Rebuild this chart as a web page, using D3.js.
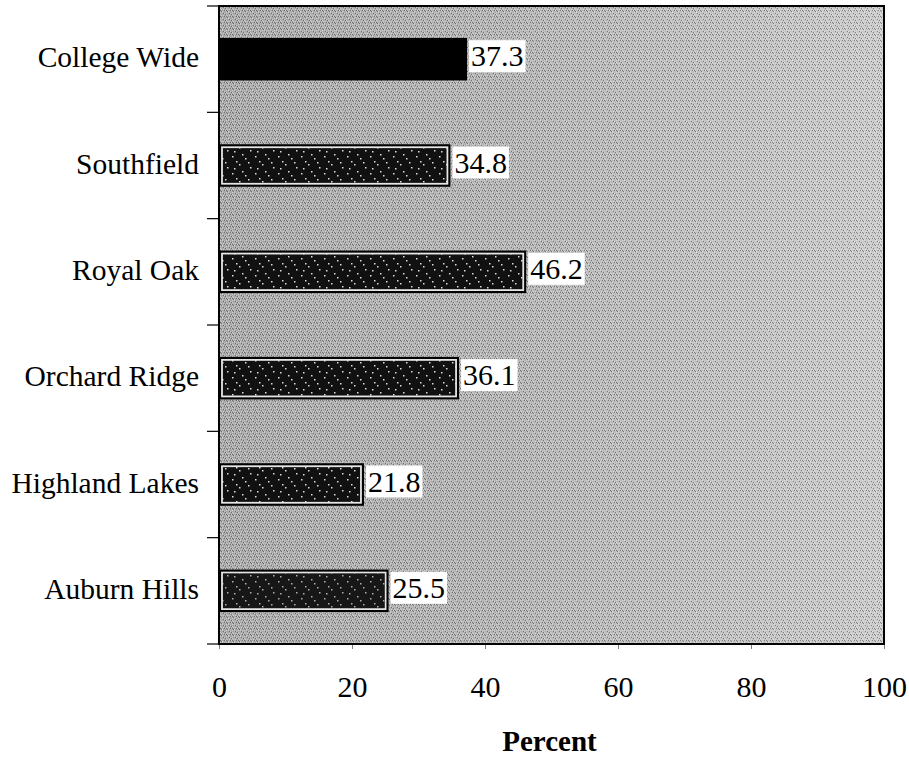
<!DOCTYPE html>
<html>
<head>
<meta charset="utf-8">
<script src="https://cdn.jsdelivr.net/npm/d3@7"></script>
<style>
  html, body { margin: 0; padding: 0; background: #fff; }
  svg { display: block; }
  text { font-family: "Liberation Serif", "Times New Roman", serif; fill: #000; }
</style>
</head>
<body>
<svg id="chart" width="909" height="760"></svg>
<script>
const categories = ["College Wide", "Southfield", "Royal Oak", "Orchard Ridge", "Highland Lakes", "Auburn Hills"];
const values = [37.3, 34.8, 46.2, 36.1, 21.8, 25.5];
const xTicks = [0, 20, 40, 60, 80, 100];
const xLabel = "Percent";

const W = 909, H = 760;
const plot = { left: 219, right: 884, top: 6, bottom: 644 };

const svg = d3.select("#chart");
const defs = svg.append("defs");

// background gradient (grey stipple look)
const grad = defs.append("linearGradient").attr("id", "bgGrad").attr("x1", 0).attr("x2", 1).attr("y1", 0).attr("y2", 0);
grad.append("stop").attr("offset", 0).attr("stop-color", "#a8a8a8");
grad.append("stop").attr("offset", 0.45).attr("stop-color", "#b4b4b4");
grad.append("stop").attr("offset", 1).attr("stop-color", "#cacaca");

// fine stipple texture
const tex = defs.append("pattern").attr("id", "stipple").attr("patternUnits", "userSpaceOnUse").attr("width", 6).attr("height", 6);
[[0,0],[2,1],[4,0],[1,3],[3,4],[5,3],[0,5],[4,2]].forEach(([a,b]) => {
  tex.append("rect").attr("x", a).attr("y", b).attr("width", 1).attr("height", 1).attr("fill", "#fff").attr("opacity", 0.4);
});
[[1,1],[3,2],[5,5],[2,4],[4,4]].forEach(([a,b]) => {
  tex.append("rect").attr("x", a).attr("y", b).attr("width", 1).attr("height", 1).attr("fill", "#000").attr("opacity", 0.35);
});

// speckled dark bar fill
const spk = defs.append("pattern").attr("id", "speckle").attr("patternUnits", "userSpaceOnUse").attr("width", 23).attr("height", 17);
spk.append("rect").attr("width", 23).attr("height", 17).attr("fill", "#111");
[[2,3],[9,11],[15,5],[20,14],[6,8],[12,1],[18,9],[4,15]].forEach(([a,b]) => {
  spk.append("rect").attr("x", a).attr("y", b).attr("width", 1.5).attr("height", 1.5).attr("fill", "#ddd");
});

const x = d3.scaleLinear().domain([0, 100]).range([plot.left, plot.right]);
const y = d3.scaleBand().domain(categories).range([plot.top, plot.bottom]).paddingInner(0.6).paddingOuter(0.3);

// plot background
svg.append("rect")
  .attr("x", plot.left).attr("y", plot.top)
  .attr("width", plot.right - plot.left).attr("height", plot.bottom - plot.top)
  .attr("fill", "url(#bgGrad)");
svg.append("rect")
  .attr("x", plot.left).attr("y", plot.top)
  .attr("width", plot.right - plot.left).attr("height", plot.bottom - plot.top)
  .attr("fill", "url(#stipple)");

// bars
const bars = svg.append("g").selectAll("g").data(categories).join("g");
bars.each(function(c, i) {
  const g = d3.select(this);
  const x0 = x(0), x1 = x(values[i]);
  const y0 = y(c), bh = y.bandwidth();
  g.append("rect").attr("x", x0).attr("y", y0).attr("width", x1 - x0).attr("height", bh).attr("fill", "#000");
  if (i > 0) {
    g.append("rect").attr("x", x0 + 3).attr("y", y0 + 3).attr("width", x1 - x0 - 6).attr("height", bh - 6)
      .attr("fill", i === 5 ? "#2a2a2a" : "url(#speckle)")
      .attr("stroke", "#e6e6e6").attr("stroke-width", 1.8);
    if (i === 5) {
      g.append("rect").attr("x", x0 + 4).attr("y", y0 + 4).attr("width", x1 - x0 - 8).attr("height", bh - 8)
        .attr("fill", "url(#speckle)").attr("opacity", 0.75);
    }
  }
});

// value labels with white boxes
const lab = svg.append("g").selectAll("g").data(categories).join("g");
lab.each(function(c, i) {
  const g = d3.select(this);
  const cy = y(c) + y.bandwidth() / 2;
  const bx = x(values[i]) + 2;
  const rect = g.append("rect").attr("fill", "#fff");
  const t = g.append("text")
    .attr("x", bx + 2).attr("y", cy + 7)
    .attr("font-size", 30)
    .text(values[i].toFixed(1));
  const w = t.node().getComputedTextLength();
  rect.attr("x", bx).attr("y", cy - 19).attr("width", w + 4).attr("height", 32);
});

// frame
svg.append("rect")
  .attr("x", plot.left).attr("y", plot.top)
  .attr("width", plot.right - plot.left).attr("height", plot.bottom - plot.top)
  .attr("fill", "none").attr("stroke", "#000").attr("stroke-width", 2);

// left ticks at band boundaries
const step = y.step();
const bounds = d3.range(categories.length + 1).map(k => plot.top + k * step);
svg.append("g").selectAll("line").data(bounds).join("line")
  .attr("x1", plot.left - 12).attr("x2", plot.left)
  .attr("y1", d => d).attr("y2", d => d)
  .attr("stroke", "#000").attr("stroke-width", 1.2);

// category labels
svg.append("g").selectAll("text").data(categories).join("text")
  .attr("x", 199).attr("y", c => y(c) + y.bandwidth() / 2 + 8)
  .attr("text-anchor", "end").attr("font-size", 29.5)
  .text(c => c);

// bottom axis
const xAxis = d3.axisBottom(x).tickValues(xTicks).tickSize(5).tickPadding(27).tickFormat(d3.format("d"));
const ax = svg.append("g").attr("transform", `translate(0,${plot.bottom})`).call(xAxis);
ax.select(".domain").remove();
ax.selectAll(".tick line").attr("stroke", "#000").attr("stroke-width", 1).attr("opacity", 0.5);
ax.selectAll(".tick text").attr("font-size", 30).attr("font-family", "Liberation Serif, serif").attr("fill", "#000");

// x label
svg.append("text")
  .attr("x", (plot.left + plot.right) / 2 - 2).attr("y", 751)
  .attr("text-anchor", "middle").attr("font-size", 29).attr("font-weight", "bold")
  .text(xLabel);
</script>
</body>
</html>
